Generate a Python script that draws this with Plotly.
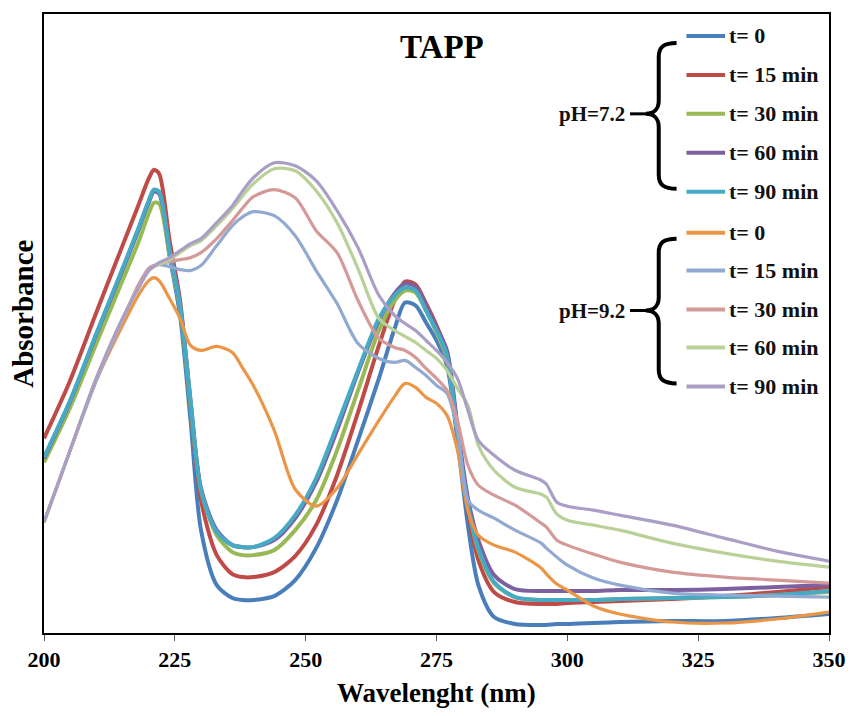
import plotly.graph_objects as go

# Wavelength grid (nm)
wavelength = [200, 205, 210, 215, 218, 220, 221, 222, 224, 226, 228, 230, 233, 236, 238, 240,
              244, 248, 252, 256, 260, 264, 267, 269, 271, 273, 275, 277, 279, 281, 283, 286,
              290, 295, 296, 298, 300, 305, 310, 320, 330, 340, 350]

# pH = 7.2
ph72_t0 = [0.350, 0.464, 0.596, 0.726, 0.806, 0.862, 0.884, 0.880, 0.756, 0.636, 0.426, 0.206, 0.096, 0.070, 0.066, 0.066,
           0.074, 0.106, 0.170, 0.266, 0.386, 0.510, 0.610, 0.662, 0.656, 0.622, 0.586, 0.536, 0.386, 0.216, 0.096, 0.032,
           0.018, 0.016, 0.016, 0.018, 0.018, 0.020, 0.022, 0.024, 0.024, 0.030, 0.038]
ph72_t15 = [0.390, 0.506, 0.642, 0.776, 0.856, 0.910, 0.928, 0.920, 0.786, 0.666, 0.456, 0.266, 0.156, 0.118, 0.112, 0.112,
            0.122, 0.154, 0.216, 0.316, 0.442, 0.576, 0.666, 0.704, 0.698, 0.660, 0.616, 0.562, 0.406, 0.246, 0.146, 0.082,
            0.062, 0.058, 0.058, 0.058, 0.060, 0.062, 0.064, 0.068, 0.074, 0.082, 0.092]
ph72_t30 = [0.342, 0.452, 0.580, 0.706, 0.782, 0.840, 0.862, 0.860, 0.756, 0.650, 0.456, 0.286, 0.196, 0.162, 0.156, 0.156,
            0.166, 0.206, 0.266, 0.366, 0.486, 0.606, 0.666, 0.686, 0.682, 0.646, 0.602, 0.550, 0.402, 0.256, 0.166, 0.100,
            0.072, 0.066, 0.066, 0.066, 0.066, 0.066, 0.068, 0.070, 0.072, 0.076, 0.082]
ph72_t60 = [0.350, 0.464, 0.598, 0.728, 0.808, 0.864, 0.886, 0.882, 0.766, 0.656, 0.466, 0.290, 0.206, 0.176, 0.172, 0.172,
            0.186, 0.230, 0.302, 0.406, 0.522, 0.626, 0.680, 0.700, 0.694, 0.656, 0.612, 0.566, 0.416, 0.270, 0.186, 0.116,
            0.088, 0.084, 0.084, 0.084, 0.084, 0.084, 0.086, 0.086, 0.088, 0.092, 0.096]
ph72_t90 = [0.352, 0.466, 0.600, 0.730, 0.810, 0.866, 0.888, 0.884, 0.766, 0.656, 0.466, 0.286, 0.202, 0.176, 0.172, 0.172,
            0.190, 0.236, 0.310, 0.416, 0.526, 0.630, 0.676, 0.692, 0.686, 0.646, 0.606, 0.556, 0.402, 0.256, 0.170, 0.102,
            0.072, 0.066, 0.066, 0.066, 0.066, 0.066, 0.068, 0.070, 0.072, 0.076, 0.084]

# pH = 9.2
ph92_t0 = [0.222, 0.366, 0.506, 0.616, 0.676, 0.706, 0.712, 0.706, 0.670, 0.630, 0.576, 0.566, 0.574, 0.562, 0.530, 0.496,
           0.406, 0.288, 0.254, 0.290, 0.358, 0.426, 0.474, 0.500, 0.492, 0.472, 0.460, 0.436, 0.366, 0.246, 0.196, 0.176,
           0.162, 0.130, 0.118, 0.098, 0.086, 0.054, 0.038, 0.022, 0.020, 0.028, 0.042]
ph92_t15 = [0.222, 0.366, 0.506, 0.626, 0.696, 0.730, 0.736, 0.738, 0.734, 0.728, 0.726, 0.736, 0.776, 0.816, 0.834, 0.844,
            0.836, 0.796, 0.726, 0.660, 0.580, 0.550, 0.542, 0.546, 0.532, 0.516, 0.496, 0.480, 0.406, 0.266, 0.246, 0.230,
            0.206, 0.180, 0.170, 0.152, 0.136, 0.110, 0.096, 0.080, 0.076, 0.074, 0.072]
ph92_t30 = [0.222, 0.366, 0.510, 0.626, 0.696, 0.730, 0.736, 0.740, 0.744, 0.748, 0.752, 0.762, 0.790, 0.826, 0.852, 0.874,
            0.888, 0.872, 0.806, 0.762, 0.666, 0.590, 0.572, 0.566, 0.552, 0.530, 0.510, 0.486, 0.426, 0.336, 0.296, 0.276,
            0.256, 0.220, 0.212, 0.186, 0.176, 0.158, 0.142, 0.122, 0.112, 0.106, 0.100]
ph92_t60 = [0.222, 0.366, 0.510, 0.630, 0.690, 0.726, 0.734, 0.738, 0.748, 0.762, 0.776, 0.786, 0.816, 0.850, 0.876, 0.900,
            0.930, 0.926, 0.886, 0.822, 0.730, 0.630, 0.606, 0.594, 0.582, 0.566, 0.550, 0.526, 0.490, 0.456, 0.376, 0.326,
            0.292, 0.278, 0.272, 0.238, 0.226, 0.216, 0.206, 0.180, 0.160, 0.144, 0.132]
ph92_t90 = [0.222, 0.366, 0.510, 0.630, 0.690, 0.726, 0.734, 0.742, 0.752, 0.766, 0.780, 0.790, 0.822, 0.856, 0.886, 0.912,
            0.942, 0.936, 0.906, 0.846, 0.772, 0.676, 0.636, 0.620, 0.606, 0.586, 0.566, 0.542, 0.510, 0.446, 0.386, 0.356,
            0.326, 0.306, 0.298, 0.262, 0.254, 0.246, 0.236, 0.216, 0.190, 0.164, 0.144]

time_labels = ["t= 0", "t= 15 min", "t= 30 min", "t= 60 min", "t= 90 min"]
x_ticks = [200, 225, 250, 275, 300, 325, 350]

groups = [
    ("pH=7.2", [ph72_t0, ph72_t15, ph72_t30, ph72_t60, ph72_t90],
     ["#4A7EBB", "#BE4B48", "#98B954", "#7D60A0", "#46AAC5"], 4.0),
    ("pH=9.2", [ph92_t0, ph92_t15, ph92_t30, ph92_t60, ph92_t90],
     ["#EB9547", "#92A9D1", "#D49A98", "#B9D197", "#AA9EC6"], 3.2),
]

W, H = 858, 716
L, R, T, B = 44, 837, 13, 633  # plot box in page pixels


def fx(x):
    return (x - L) / (R - L)


def fy(y):
    return (B - y) / (B - T)


SERIF = "Liberation Serif"

fig = go.Figure()
for _, series, colors, lw in groups:
    for vals, col, name in zip(series, colors, time_labels):
        fig.add_trace(go.Scatter(
            x=wavelength, y=vals, mode="lines", name=name,
            line=dict(color=col, width=lw, shape="spline", smoothing=0.8),
            showlegend=False, hoverinfo="x+y+name"))

shapes = []
annotations = []

# Hand-built legend with braces
row_y = [[35, 74, 113, 152, 191], [232, 270, 309, 347, 386]]
brace = [(42, 113, 188), (238, 310, 383)]
for gi, (label, _, colors, _) in enumerate(groups):
    for ry, col, name in zip(row_y[gi], colors, time_labels):
        shapes.append(dict(type="line", xref="paper", yref="paper",
                           x0=fx(693), x1=fx(732), y0=fy(ry), y1=fy(ry),
                           line=dict(color=col, width=4)))
        annotations.append(dict(x=fx(734), y=fy(ry), xref="paper", yref="paper",
                                text=name, showarrow=False, xanchor="left", yanchor="middle",
                                font=dict(family=SERIF, size=22, color="#111", weight="bold")))
    top, mid, bot = brace[gi]
    pts = [
        f"M {fx(683)},{fy(top)}",
        f"C {fx(670)},{fy(top)} {fx(665)},{fy(top + 4)} {fx(665)},{fy(top + 14)}",
        f"L {fx(665)},{fy(mid - 13)}",
        f"C {fx(665)},{fy(mid - 5)} {fx(660)},{fy(mid)} {fx(652)},{fy(mid)}",
        f"C {fx(660)},{fy(mid)} {fx(665)},{fy(mid + 5)} {fx(665)},{fy(mid + 13)}",
        f"L {fx(665)},{fy(bot - 14)}",
        f"C {fx(665)},{fy(bot - 4)} {fx(670)},{fy(bot)} {fx(683)},{fy(bot)}",
    ]
    shapes.append(dict(type="path", xref="paper", yref="paper", path=" ".join(pts),
                       line=dict(color="black", width=4)))
    shapes.append(dict(type="line", xref="paper", yref="paper",
                       x0=fx(636), x1=fx(653), y0=fy(mid), y1=fy(mid),
                       line=dict(color="black", width=3)))
    annotations.append(dict(x=fx(633), y=fy(mid), xref="paper", yref="paper",
                            text=label, showarrow=False, xanchor="right", yanchor="middle",
                            font=dict(family=SERIF, size=21, color="#111", weight="bold")))

# Chart title and axis titles
annotations.append(dict(x=fx(446), y=fy(46), xref="paper", yref="paper", text="TAPP",
                        showarrow=False, xanchor="center", yanchor="middle",
                        font=dict(family=SERIF, size=33, color="black", weight="bold")))
annotations.append(dict(x=fx(440), y=fy(693), xref="paper", yref="paper", text="Wavelenght (nm)",
                        showarrow=False, xanchor="center", yanchor="middle",
                        font=dict(family=SERIF, size=27, color="black", weight="bold")))
annotations.append(dict(x=fx(22), y=fy(313), xref="paper", yref="paper", text="Absorbance",
                        showarrow=False, xanchor="center", yanchor="middle", textangle=-90,
                        font=dict(family=SERIF, size=29, color="black", weight="bold")))

fig.update_layout(
    width=W, height=H,
    margin=dict(l=L, r=W - R, t=T, b=H - B),
    paper_bgcolor="white", plot_bgcolor="white",
    shapes=shapes, annotations=annotations,
    xaxis=dict(range=[200, 350], tickvals=x_ticks, ticks="outside", ticklen=6,
               tickcolor="#555", tickwidth=1, showgrid=False, zeroline=False,
               showline=True, linecolor="black", linewidth=2, mirror=True,
               tickfont=dict(family=SERIF, size=22, color="black", weight="bold")),
    yaxis=dict(range=[0, 1.24], showticklabels=False, ticks="", showgrid=False,
               zeroline=False, showline=True, linecolor="black", linewidth=2, mirror=True),
)

fig.write_html("out.html")
